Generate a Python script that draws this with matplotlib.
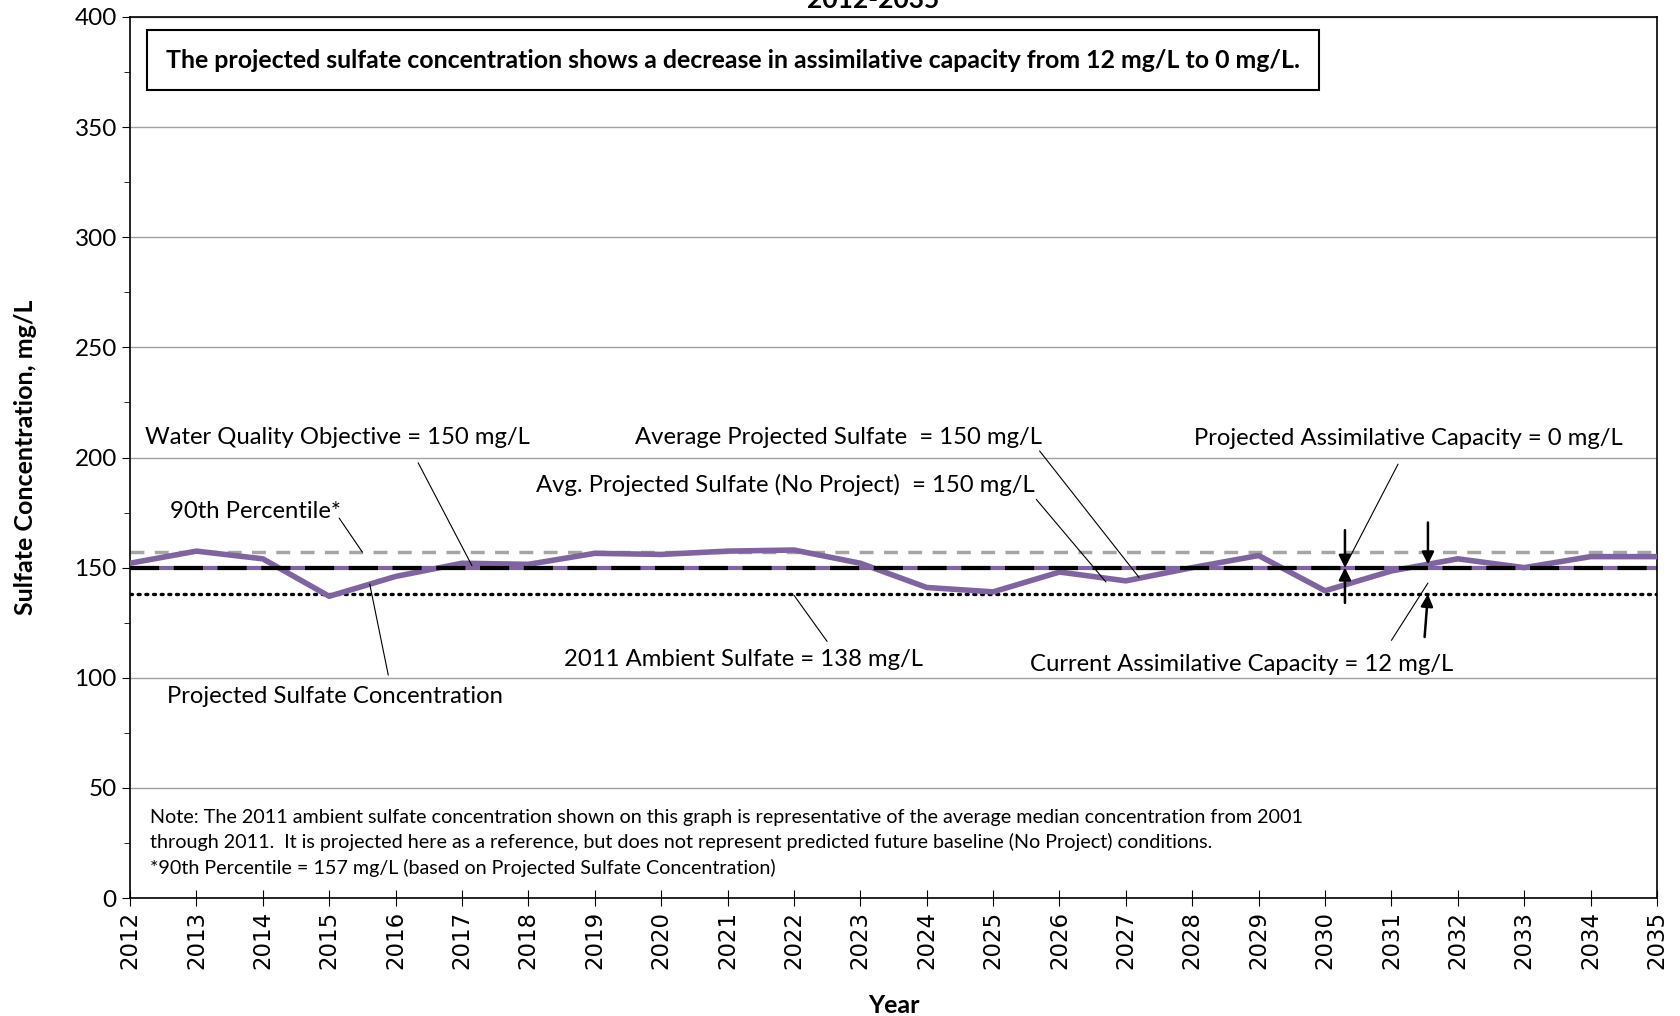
import numpy as np
import matplotlib.pyplot as plt
from matplotlib.ticker import MultipleLocator

plt.rcParams['font.family'] = ['Lato', 'DejaVu Sans']

# annees et concentrations projetees
years = list(range(2012, 2036))
projected = [152, 157.5, 154, 137, 146, 152, 151.5, 156.5, 156, 157.5, 158, 152,
             141, 139, 148, 144, 150, 155.5, 139.5, 148.5, 154, 150, 155, 155]

wqo = 150
avg_proj = 150
avg_noproj = 150
pct90 = 157
ambient = 138

fig = plt.figure(figsize=(16.8, 10.16), dpi=100)
ax = fig.add_axes([0.0774, 0.1161, 0.9089, 0.8672])

ax.plot(years, [avg_noproj] * len(years), color="#8064a2", lw=3, zorder=2)
ax.plot(years, projected, color="#8064a2", lw=4, zorder=3)
ax.plot(years, [pct90] * len(years), color="#a6a6a6", lw=2.5, ls=(0, (4, 3)), zorder=2)
ax.plot(years, [wqo] * len(years), color="black", lw=3, ls=(0, (7, 3.5)), zorder=4)
ax.plot(years, [ambient] * len(years), color="black", lw=2.4, ls=(0, (0.6, 1.7)),
        dash_capstyle="round", zorder=2)

ax.set_xlim(2012, 2035)
ax.set_ylim(0, 400)
ax.set_xticks(years)
ax.set_xticklabels([str(y) for y in years], rotation=90, fontsize=16.5, family="DejaVu Sans")
ax.yaxis.set_major_locator(MultipleLocator(50))
ax.yaxis.set_minor_locator(MultipleLocator(25))
ax.tick_params(axis="y", labelsize=17.5, direction="out", length=6)
ax.tick_params(axis="y", which="minor", length=4)
ax.tick_params(axis="x", direction="inout", length=12)
ax.grid(axis="y", color="#a0a0a0", lw=1)
ax.set_axisbelow(True)
for s in ax.spines.values():
    s.set_linewidth(1.2)

ax.set_xlabel("Year", fontsize=18, fontweight="bold", labelpad=18)
ax.set_ylabel("Sulfate Concentration, mg/L", fontsize=18, fontweight="bold", labelpad=27)
fig.text(0.52, 1.0, "2012-2035", ha="center", va="center", fontsize=19, fontweight="bold")

ax.text(0.0235, 0.951, "The projected sulfate concentration shows a decrease in assimilative capacity from 12 mg/L to 0 mg/L.",
        transform=ax.transAxes, fontsize=17.9, fontweight="bold", va="center", ha="left",
        bbox=dict(boxstyle="square,pad=0.75", fc="white", ec="black", lw=1.5))

ax.text(2012.3, 40.5, "Note: The 2011 ambient sulfate concentration shown on this graph is representative of the average median concentration from 2001\n"
        "through 2011.  It is projected here as a reference, but does not represent predicted future baseline (No Project) conditions.\n"
        "*90th Percentile = 157 mg/L (based on Projected Sulfate Concentration)",
        fontsize=14.2, va="top", ha="left", linespacing=1.5)

lbl = dict(fontsize=17.2, va="center", ha="left")
line = dict(arrowstyle="-", color="black", lw=0.8, shrinkA=0, shrinkB=0)

ax.annotate("Water Quality Objective = 150 mg/L", xy=(2012.22, 209), **lbl)
ax.annotate("", xy=(2017.15, 150.9), xytext=(2016.34, 197.6), arrowprops=line)
ax.annotate("90th Percentile*", xy=(2012.6, 175.5), **lbl)
ax.annotate("", xy=(2015.5, 157), xytext=(2015.15, 172.5), arrowprops=line)
ax.annotate("Average Projected Sulfate  = 150 mg/L", xy=(2019.61, 209), **lbl)
ax.annotate("", xy=(2027.2, 145.5), xytext=(2025.7, 203), arrowprops=line)
ax.annotate("Avg. Projected Sulfate (No Project)  = 150 mg/L", xy=(2018.11, 187.5), **lbl)
ax.annotate("", xy=(2026.7, 143.5), xytext=(2025.65, 181), arrowprops=line)
ax.annotate("Projected Assimilative Capacity = 0 mg/L", xy=(2028.02, 208.5), **lbl)
ax.annotate("", xy=(2030.3, 150.5), xytext=(2031.1, 197), arrowprops=line)
ax.annotate("2011 Ambient Sulfate = 138 mg/L", xy=(2018.53, 108.5), **lbl)
ax.annotate("", xy=(2022.0, 137.5), xytext=(2022.5, 116.5), arrowprops=line)
ax.annotate("Projected Sulfate Concentration", xy=(2012.55, 91.5), **lbl)
ax.annotate("", xy=(2015.61, 142.6), xytext=(2015.89, 101.2), arrowprops=line)
ax.annotate("Current Assimilative Capacity = 12 mg/L", xy=(2025.56, 106), **lbl)
ax.annotate("", xy=(2031.55, 143), xytext=(2031.0, 117), arrowprops=line)

arr = dict(arrowstyle="-|>", color="black", lw=1.8, mutation_scale=18, shrinkA=0, shrinkB=0)
ax.annotate("", xy=(2030.3, wqo), xytext=(2030.3, 167), arrowprops=arr)
ax.annotate("", xy=(2030.3, wqo), xytext=(2030.3, 134), arrowprops=arr)
ax.annotate("", xy=(2031.55, 151.5), xytext=(2031.55, 170.5), arrowprops=arr)
ax.annotate("", xy=(2031.55, ambient), xytext=(2031.5, 118.5), arrowprops=arr)

fig.savefig("out.png", dpi=100)
